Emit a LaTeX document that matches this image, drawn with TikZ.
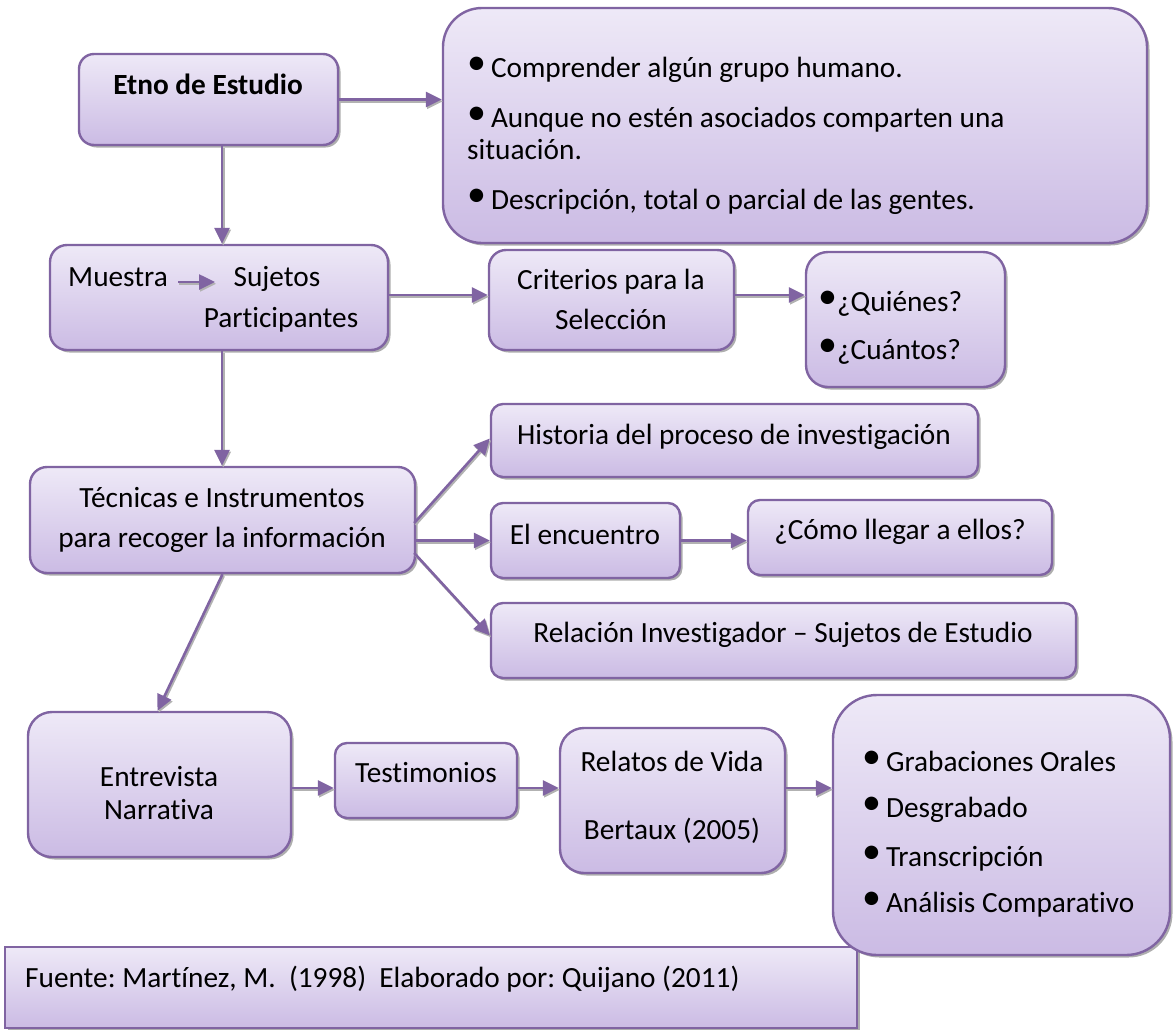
\documentclass[tikz,border=0pt]{standalone}
\usepackage{fontspec}
\setmainfont[RawFeature={-liga}]{Carlito}
\frenchspacing
\usetikzlibrary{arrows.meta,shadows,calc}
\definecolor{pline}{RGB}{128,100,162}
\definecolor{ftop}{RGB}{238,233,247}
\definecolor{fbot}{RGB}{203,187,228}
\newcommand\bul{{\fontsize{38}{38}\selectfont\raisebox{3pt}{•}}}
\newcommand\mkbox[6]{%
  \pgfmathsetmacro\bw{#4-#2}\pgfmathsetmacro\bh{#5-#3}%
  \pgfmathsetmacro\bx{(#2+#4)/2}\pgfmathsetmacro\by{(#3+#5)/2}%
  \node[boxst, minimum width=\bw pt, minimum height=\bh pt, rounded corners=#6pt] (#1) at (\bx,\by) {};}
\begin{document}
\begin{tikzpicture}[x=1pt,y=-1pt,
  boxst/.style={draw=pline, line width=2.4pt, top color=ftop, bottom color=fbot, rectangle, inner sep=0pt,
    drop shadow={shadow xshift=2.5pt, shadow yshift=-2.5pt, fill=black!45, opacity=0.7}},
  txt/.style={inner sep=0pt, font=\fontsize{29.3}{35}\selectfont, anchor=base},
  ltxt/.style={txt, anchor=base west},
  conn/.style={line width=2.6pt, draw=pline, -{Triangle[length=16pt,width=15pt]},
    preaction={draw=black!30, line width=2.6pt, -{Triangle[length=16pt,width=15pt]},
      transform canvas={xshift=1.2pt,yshift=-1.8pt}}}]
\useasboundingbox (0,0) rectangle (1173,1029);

% boxes
\mkbox{etno}{79}{54}{338}{145}{15}
\mkbox{big}{443}{8}{1147}{243}{39}
\mkbox{muestra}{50}{245}{388}{350}{17}
\mkbox{crit}{489}{250}{734}{350}{17}
\mkbox{quien}{806}{252}{1005}{387}{22}
\mkbox{hist}{491}{404}{978}{477}{12}
\mkbox{tec}{30}{467}{415}{573}{17}
\mkbox{enc}{491}{503}{680}{578}{12}
\mkbox{como}{748}{500}{1052}{575}{12}
\mkbox{rel}{491}{603}{1076}{678}{12}
\mkbox{entre}{28}{712}{291}{857}{24}
\mkbox{test}{335}{743}{517}{818}{12}
\mkbox{relatos}{560}{728}{785}{873}{24}
\mkbox{fuente}{5}{947}{857}{1028}{0}
\mkbox{grab}{833}{695}{1170}{955}{44}

% texts
\node[txt] (tEtno) at (208,94) {\textbf{Etno de Estudio}};
\node[ltxt] (b1) at (467,77) {\bul\,Comprender algún grupo humano.};
\node[ltxt] (b2) at (467,127) {\bul\,Aunque no estén asociados comparten una};
\node[ltxt] (b2b) at (467,159) {situación.};
\node[ltxt] (b3) at (467,209) {\bul\,Descripción, total o parcial de las gentes.};

\node[ltxt] (tMu) at (68,286) {Muestra};
\node[txt] (tSu) at (277,286) {Sujetos};
\node[txt] (tPa) at (281,327) {Participantes};
\node[txt] (tCr1) at (611,289) {Criterios para la};
\node[txt] (tCr2) at (611,329) {Selección};
\node[ltxt] (q1) at (818,311) {\bul¿Quiénes?};
\node[ltxt] (q2) at (818,359) {\bul¿Cuántos?};

\node[txt] (tHi) at (734,444) {Historia del proceso de investigación};
\node[txt] (tTe1) at (222,507) {Técnicas e Instrumentos};
\node[txt] (tTe2) at (222,547) {para recoger la información};
\node[txt] (tEn) at (585,544) {El encuentro};
\node[txt] (tCo) at (900,539) {¿Cómo llegar a ellos?};
\node[txt] (tRe) at (783,642) {Relación Investigador – Sujetos de Estudio};

\node[txt] (tEv1) at (159,786) {Entrevista};
\node[txt] (tEv2) at (159,819) {Narrativa};
\node[txt] (tTs) at (426,782) {Testimonios};
\node[txt] (tRv1) at (672,771) {Relatos de Vida};
\node[txt] (tRv2) at (672,839) {Bertaux (2005)};
\node[ltxt] (g1) at (862,771) {\bul\,Grabaciones Orales};
\node[ltxt] (g2) at (862,817) {\bul\,Desgrabado};
\node[ltxt] (g3) at (862,866) {\bul\,Transcripción};
\node[ltxt] (g4) at (862,912) {\bul\,Análisis Comparativo};
\node[ltxt] (tFu) at (25,987) {Fuente: Martínez, M.\ \ (1998)\ \ Elaborado por: Quijano (2011)};

% connectors
\coordinate (vx) at (222,0);
\coordinate (r2) at (0,295);
\coordinate (r5) at (0,788);
\coordinate (ma1) at (178,282);
\coordinate (ma2) at (215,282);
\draw[conn] (etno.east) -- (etno.east -| big.west);
\draw[conn] (etno.south -| vx) -- (muestra.north -| vx);
\draw[conn] (muestra.south -| vx) -- (tec.north -| vx);
\draw[conn] (ma1) -- (ma2);
\draw[conn] (muestra.east |- r2) -- (crit.west |- r2);
\draw[conn] (crit.east |- r2) -- (quien.west |- r2);
\draw[conn] ($(tec.east)+(-2,3)$) -- ($(hist.west)+(0,-2)$);
\draw[conn] (tec.east |- enc.west) -- (enc.west);
\draw[conn] ($(tec.east)+(-2,33)$) -- ($(rel.west)+(0,-5)$);
\draw[conn] (enc.east) -- (enc.east -| como.west);
\draw[conn] (tec.south) -- ($(entre.north)+(-2,0)$);
\draw[conn] (entre.east |- r5) -- (test.west |- r5);
\draw[conn] (test.east |- r5) -- (relatos.west |- r5);
\draw[conn] (relatos.east |- r5) -- (grab.west |- r5);
\end{tikzpicture}
\end{document}
